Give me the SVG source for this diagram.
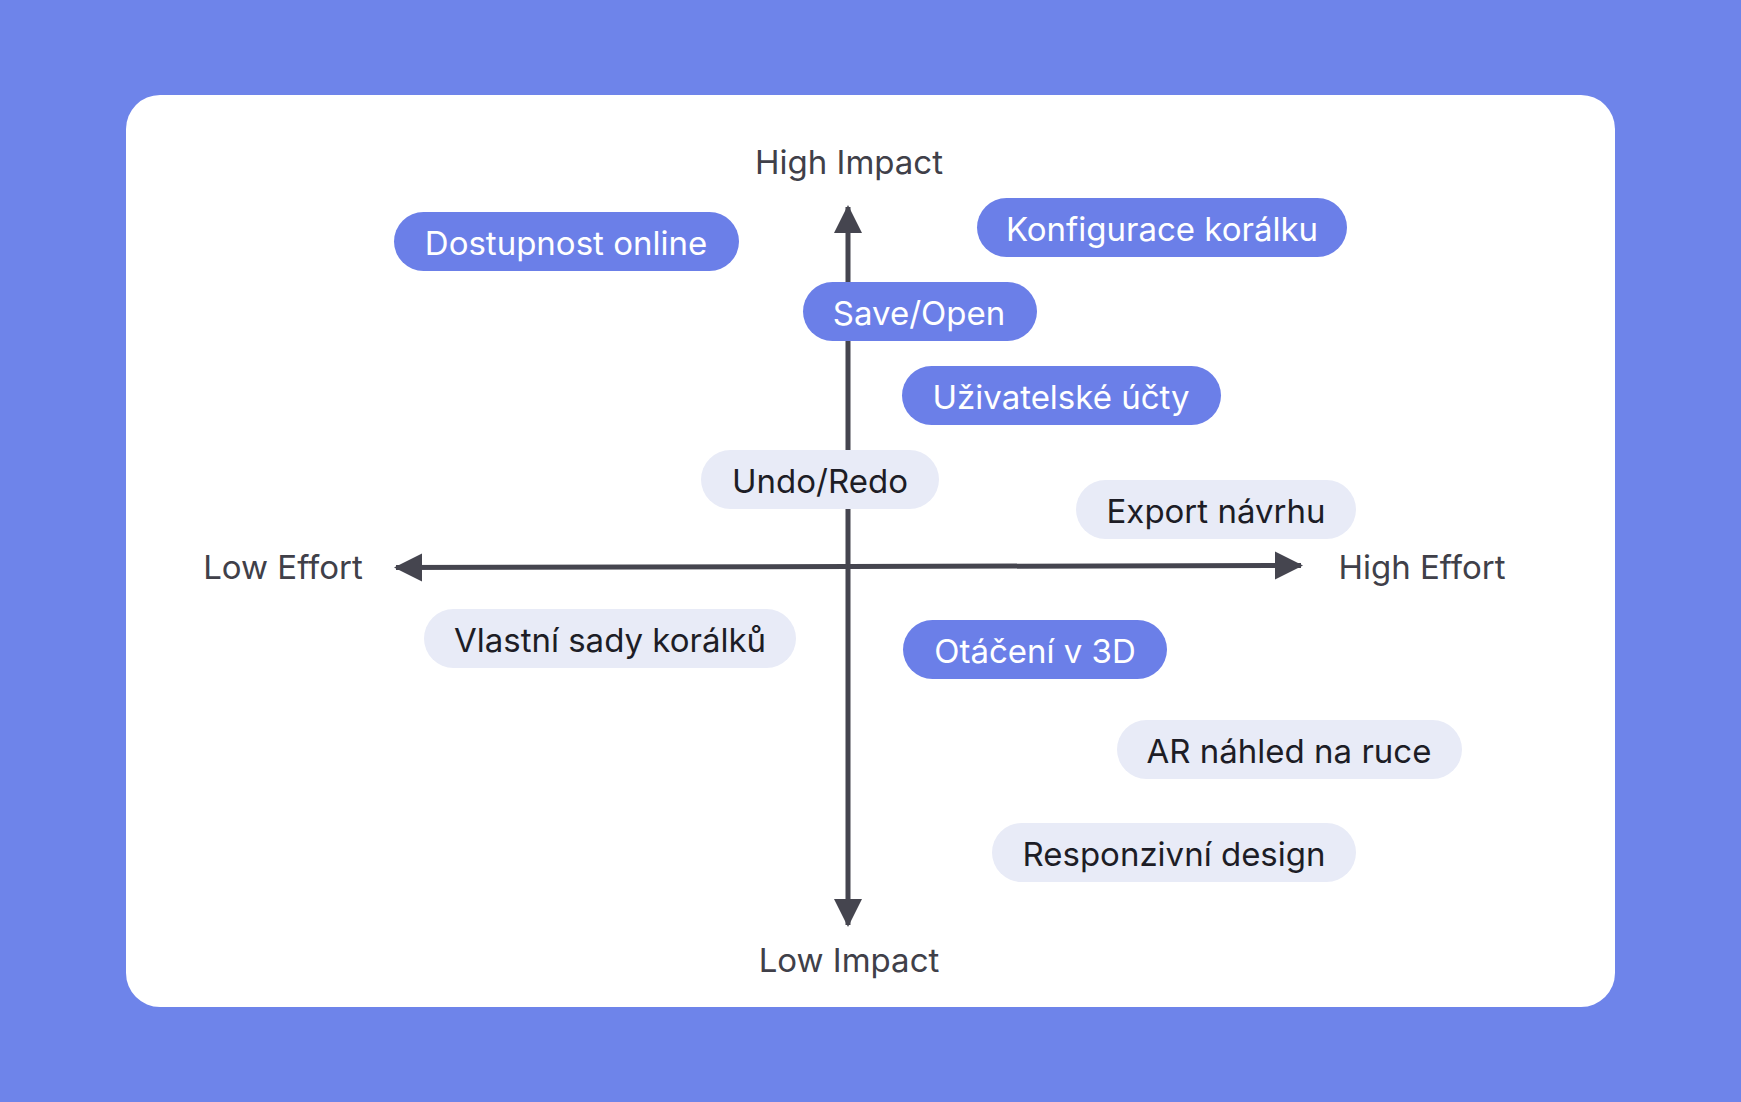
<svg xmlns="http://www.w3.org/2000/svg" width="1741" height="1102" viewBox="0 0 1741 1102">
<style>
.t{font-family:Inter,"Liberation Sans",sans-serif;font-size:33px;text-anchor:middle;dominant-baseline:central}
.ax{fill:#404049}
.pd{fill:#6B7FE8}.pl{fill:#E8EBF7}
.wd{fill:#ffffff}.wl{fill:#1d1d26}
.axis{stroke:#45454F;stroke-width:5;fill:none}
</style>
<defs>
<marker id="ah" markerUnits="userSpaceOnUse" markerWidth="30" markerHeight="30" viewBox="0 0 30 30" refX="26" refY="15" orient="auto">
<path d="M0,1 L28,15 L0,29 Z" fill="#45454F"/>
</marker>
</defs>
<rect width="1741" height="1102" fill="#6E84EA"/>
<rect x="126" y="95" width="1489" height="912" rx="34" fill="#ffffff"/>
<g id="connectors">
<line class="axis" x1="848" y1="560" x2="848" y2="207" marker-end="url(#ah)"/>
<line class="axis" x1="848" y1="560" x2="848" y2="925" marker-end="url(#ah)"/>
<line class="axis" x1="848" y1="566.5" x2="396" y2="567.5" marker-end="url(#ah)"/>
<line class="axis" x1="848" y1="566.5" x2="1301" y2="565.5" marker-end="url(#ah)"/>
</g>
<g id="axis-labels">
<text class="t ax" x="849" y="162">High Impact</text>
<text class="t ax" x="849" y="960">Low Impact</text>
<text class="t ax" x="283" y="567">Low Effort</text>
<text class="t ax" x="1422" y="567">High Effort</text>
</g>
<g id="n1"><rect class="pd" x="394" y="212" width="345" height="59" rx="29.5"/><text class="t wd" x="566" y="243">Dostupnost online</text></g>
<g id="n2"><rect class="pd" x="977" y="198" width="370" height="59" rx="29.5"/><text class="t wd" x="1162" y="229">Konfigurace korálku</text></g>
<g id="n3"><rect class="pd" x="803" y="282" width="234" height="59" rx="29.5"/><text class="t wd" x="919" y="313">Save/Open</text></g>
<g id="n4"><rect class="pd" x="902" y="366" width="319" height="59" rx="29.5"/><text class="t wd" x="1061" y="397">Uživatelské účty</text></g>
<g id="n5"><rect class="pl" x="701" y="450" width="238" height="59" rx="29.5"/><text class="t wl" x="820" y="481">Undo/Redo</text></g>
<g id="n6"><rect class="pl" x="1076" y="480" width="280" height="59" rx="29.5"/><text class="t wl" x="1216" y="511">Export návrhu</text></g>
<g id="n7"><rect class="pl" x="424" y="609" width="372" height="59" rx="29.5"/><text class="t wl" x="610" y="640">Vlastní sady korálků</text></g>
<g id="n8"><rect class="pd" x="903" y="620" width="264" height="59" rx="29.5"/><text class="t wd" x="1035" y="651">Otáčení v 3D</text></g>
<g id="n9"><rect class="pl" x="1117" y="720" width="345" height="59" rx="29.5"/><text class="t wl" x="1289" y="751">AR náhled na ruce</text></g>
<g id="n10"><rect class="pl" x="992" y="823" width="364" height="59" rx="29.5"/><text class="t wl" x="1174" y="854">Responzivní design</text></g>
</svg>
